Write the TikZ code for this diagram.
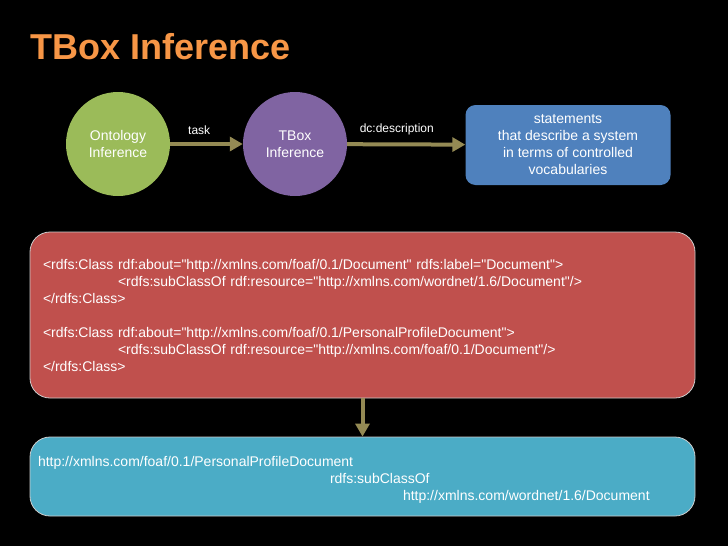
\documentclass[tikz,border=0pt]{standalone}
\usepackage{fontspec}
\setmainfont{Liberation Sans}[Ligatures=TeXOff]
\usetikzlibrary{positioning,arrows.meta}
\definecolor{titleorange}{RGB}{247,150,70}
\definecolor{ontogreen}{RGB}{155,187,89}
\definecolor{tboxpurple}{RGB}{128,100,162}
\definecolor{stmtblue}{RGB}{79,129,189}
\definecolor{rdfred}{RGB}{192,80,77}
\definecolor{resultteal}{RGB}{75,172,198}
\definecolor{arrowtan}{RGB}{148,138,84}
\begin{document}
\begin{tikzpicture}[x=1pt, y=-1pt,
  every node/.style={text=white, font=\fontsize{14}{17}\selectfont},
  concept/.style={circle, minimum size=104pt, inner sep=1pt, align=center},
  codebox/.style={rounded corners=20pt, draw=white!80!black, line width=0.8pt,
    minimum width=665pt, align=left},
  flow/.style={arrowtan, line width=4pt, -{Triangle[length=13pt,width=14pt]}},
  edgelbl/.style={font=\fontsize{12}{14}\selectfont, inner sep=2pt}]

  \fill[black] (0,0) rectangle (728,546);
  \useasboundingbox (0,0) rectangle (728,546);

  \node[anchor=base west, text=titleorange, inner sep=0pt,
    font=\fontsize{36}{40}\selectfont\bfseries] (title) at (30,59) {TBox Inference};

  \node[concept, fill=ontogreen] (onto) at (118,144) {Ontology\\Inference};
  \node[concept, fill=tboxpurple] (tbox) at (295,144) {TBox\\Inference};
  \node[rounded corners=10pt, fill=stmtblue, minimum width=205pt, minimum height=80pt,
    align=center] (stmt) at (568,145)
    {statements\\that describe a system\\in terms of controlled\\vocabularies};

  \draw[flow] (onto) -- node[edgelbl, above=5pt, pos=0.4] (tasklbl) {task} (tbox);
  \draw[flow] (tbox) -- node[edgelbl, above=5pt, pos=0.42] (desclbl) {dc:description} (stmt);

  \node[codebox, fill=rdfred, minimum height=166pt, text width=639pt, inner xsep=13pt]
    (rdf) at (362.5,315)
    {<rdfs:Class rdf:about="http://xmlns.com/foaf/0.1/Document" rdfs:label="Document">\\
     \hspace*{75pt}<rdfs:subClassOf rdf:resource="http://xmlns.com/wordnet/1.6/Document"/>\\
     </rdfs:Class>\\[17pt]
     <rdfs:Class rdf:about="http://xmlns.com/foaf/0.1/PersonalProfileDocument">\\
     \hspace*{75pt}<rdfs:subClassOf rdf:resource="http://xmlns.com/foaf/0.1/Document"/>\\
     </rdfs:Class>};

  \node[codebox, fill=resultteal, minimum height=79pt, text width=649pt, inner xsep=8pt]
    (result) at (362.5,476.5)
    {\rule{0pt}{17pt}http://xmlns.com/foaf/0.1/PersonalProfileDocument\\
     \hspace*{292pt}rdfs:subClassOf\\
     \hspace*{365pt}http://xmlns.com/wordnet/1.6/Document};

  \draw[flow] (rdf) -- (result);
\end{tikzpicture}
\end{document}
